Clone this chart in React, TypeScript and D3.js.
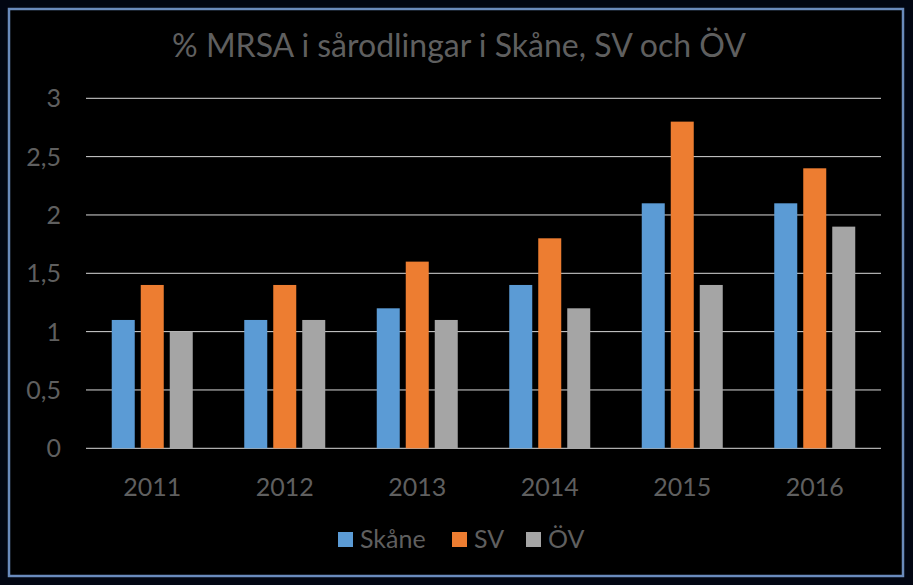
import React from "react";
import * as d3 from "d3";

const categories = ["2011", "2012", "2013", "2014", "2015", "2016"];
const seriesNames = ["Skåne", "SV", "ÖV"];
const skane = [1.1, 1.1, 1.2, 1.4, 2.1, 2.1];
const sv = [1.4, 1.4, 1.6, 1.8, 2.8, 2.4];
const ov = [1.0, 1.1, 1.1, 1.2, 1.4, 1.9];
const yTicks = [0, 0.5, 1, 1.5, 2, 2.5, 3];
const colors = ["#5B9BD5", "#ED7D31", "#A5A5A5"];
const title = "% MRSA i sårodlingar i Skåne, SV och ÖV";

const W = 913;
const H = 585;
const FONT = "Lato, 'Open Sans', sans-serif";
const TEXT = "#5f5f5f";

export default function App() {
  const series = [skane, sv, ov];
  const x0 = d3.scaleBand<string>().domain(categories).range([86, 881]).padding(0);
  const groupW = 81;
  const x1 = d3
    .scaleBand<string>()
    .domain(seriesNames)
    .range([0, groupW])
    .paddingInner(6 / 29)
    .paddingOuter(0);
  const y = d3.scaleLinear().domain([0, 3]).range([448.3, 98.3]);
  const fmt = (v: number) => String(v).replace(".", ",");

  const legendItems = [
    { name: seriesNames[0], sq: 338, tx: 360 },
    { name: seriesNames[1], sq: 452, tx: 474 },
    { name: seriesNames[2], sq: 526, tx: 548 },
  ];

  return (
    <div style={{ position: "fixed", left: 0, top: 0 }}>
      <svg width={W} height={H} style={{ display: "block" }}>
        <rect x={0} y={0} width={W} height={H} fill="#020612" />
        <rect x={9} y={9} width={894} height={567} fill="#000000" stroke="#6a8bbd" strokeWidth={2.5} />
        <text x={459} y={57} textAnchor="middle" fill={TEXT} fontFamily={FONT} fontSize={32}>
          {title}
        </text>
        {yTicks.map((t) => (
          <g key={t}>
            <line x1={86} x2={881} y1={y(t)} y2={y(t)} stroke="#d9d9d9" strokeWidth={1} />
            <text
              x={61}
              y={y(t)}
              dy="0.36em"
              textAnchor="end"
              fill={TEXT}
              fontFamily={FONT}
              fontSize={25}
            >
              {fmt(t)}
            </text>
          </g>
        ))}
        {categories.map((c, i) => {
          const gx = (x0(c) as number) + (x0.bandwidth() - groupW) / 2;
          return (
            <g key={c}>
              {series.map((s, j) => (
                <rect
                  key={j}
                  x={gx + (x1(seriesNames[j]) as number)}
                  y={y(s[i])}
                  width={x1.bandwidth()}
                  height={y(0) - y(s[i])}
                  fill={colors[j]}
                />
              ))}
              <text
                x={(x0(c) as number) + x0.bandwidth() / 2}
                y={496}
                textAnchor="middle"
                fill={TEXT}
                fontFamily={FONT}
                fontSize={25}
              >
                {c}
              </text>
            </g>
          );
        })}
        {legendItems.map((l, j) => (
          <g key={l.name}>
            <rect x={l.sq} y={532} width={15} height={15} fill={colors[j]} />
            <text x={l.tx} y={548} fill={TEXT} fontFamily={FONT} fontSize={25}>
              {l.name}
            </text>
          </g>
        ))}
      </svg>
    </div>
  );
}
